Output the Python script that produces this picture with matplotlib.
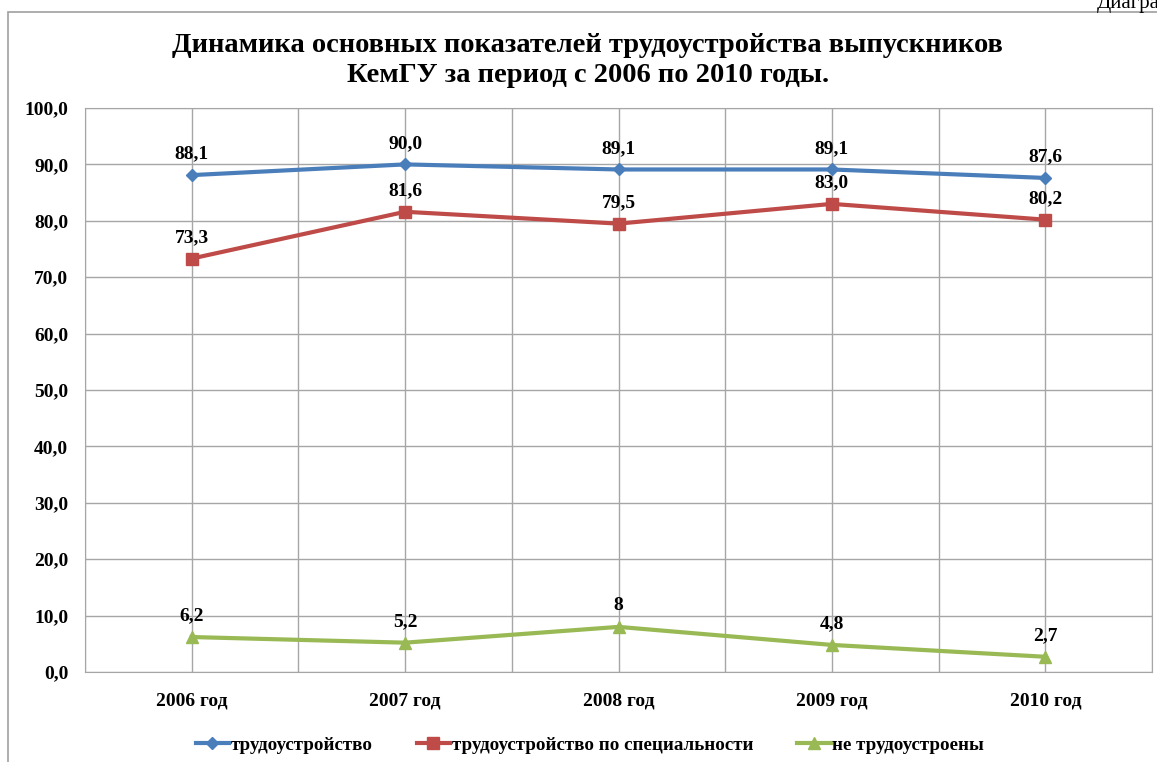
import matplotlib.pyplot as plt
from matplotlib.lines import Line2D
from matplotlib.patches import Rectangle

plt.rcParams['font.family'] = ['Liberation Serif', 'DejaVu Serif']

years = ["2006 год", "2007 год", "2008 год", "2009 год", "2010 год"]
employed = [88.1, 90.0, 89.1, 89.1, 87.6]
employed_spec = [73.3, 81.6, 79.5, 83.0, 80.2]
not_employed = [6.2, 5.2, 8.0, 4.8, 2.7]
not_employed_labels = ["6,2", "5,2", "8", "4,8", "2,7"]

series_names = ["трудоустройство", "трудоустройство по специальности", "не трудоустроены"]
colors = ["#4A7EBB", "#BE4B48", "#98B954"]
markers = ["D", "s", "^"]
msizes = [6, 9, 8]

fig = plt.figure(figsize=(11.57, 7.62), dpi=100)

# outer chart frame
fig.add_artist(Rectangle((8 / 1157, -0.1), 1.2, 1 - 12 / 762 + 0.1,
                         transform=fig.transFigure, fill=False,
                         edgecolor="#A0A0A0", linewidth=1.2))
fig.text(1097 / 1157, 1 - 8 / 762, "Диаграмма", fontsize=15, va="baseline", ha="left")

ax = fig.add_axes([85 / 1157, 1 - 672 / 762, (1152 - 85) / 1157, (672 - 108) / 762])

x = list(range(len(years)))
all_series = [employed, employed_spec, not_employed]
all_labels = [
    [f"{v:.1f}".replace(".", ",") for v in employed],
    [f"{v:.1f}".replace(".", ",") for v in employed_spec],
    not_employed_labels,
]

for vals, labs, c, m, ms in zip(all_series, all_labels, colors, markers, msizes):
    ax.plot(x, vals, color=c, linewidth=3, marker=m, markersize=ms, zorder=3)
    for xi, v, lab in zip(x, vals, labs):
        ax.annotate(lab, (xi, v), xytext=(0, 9), textcoords="offset points",
                    ha="center", va="bottom", fontsize=14, fontweight="bold")

ax.set_xlim(-0.5, 4.5)
ax.set_ylim(0, 100)
ax.set_yticks(range(0, 101, 10))
ax.set_yticklabels([f"{v},0" for v in range(0, 101, 10)], fontsize=14, fontweight="bold")
ax.set_xticks(x)
ax.set_xticklabels(years, fontsize=14, fontweight="bold")
ax.set_xticks([i + 0.5 for i in range(-1, 5)], minor=True)
ax.tick_params(axis="both", which="both", length=0)
ax.tick_params(axis="y", pad=12)
ax.tick_params(axis="x", pad=15)
ax.grid(True, which="major", color="#A6A6A6", linewidth=1)
ax.grid(True, which="minor", axis="x", color="#A6A6A6", linewidth=1)
ax.set_axisbelow(True)
for s in ax.spines.values():
    s.set_color("#A6A6A6")

fig.text(0.508, 1 - 45 / 762, "Динамика основных показателей трудоустройства выпускников",
         ha="center", va="center", fontsize=20.5, fontweight="bold")
fig.text(0.508, 1 - 76 / 762, "КемГУ за период с 2006 по 2010 годы.",
         ha="center", va="center", fontsize=20.5, fontweight="bold")

handles = [Line2D([0], [0], color=c, linewidth=3, marker=m, markersize=ms)
           for c, m, ms in zip(colors, markers, msizes)]
fig.legend(handles, series_names, loc="center", bbox_to_anchor=(0.51, 1 - 745 / 762),
           ncol=3, frameon=False, prop={"size": 13.7, "weight": "bold"},
           handlelength=1.75, handletextpad=0.1, columnspacing=2.3)

fig.savefig("out.png", dpi=100)
